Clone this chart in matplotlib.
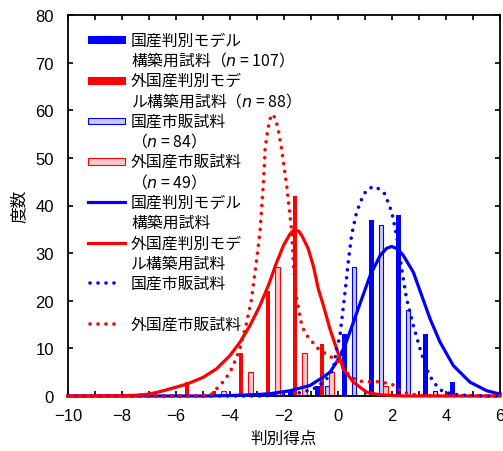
import numpy as np
import matplotlib.pyplot as plt
from matplotlib.patches import Rectangle
from matplotlib.lines import Line2D
from matplotlib.ticker import MultipleLocator

plt.rcParams['font.family'] = ['Liberation Sans', 'Noto Sans CJK JP']
plt.rcParams['mathtext.fontset'] = 'dejavusans'

# histogram bins (width 1), counts per group
bin_centers = [-5.5, -4.5, -3.5, -2.5, -1.5, -0.5, 0.5, 1.5, 2.5, 3.5, 4.5]
dom_model_counts = [0, 0, 0, 0, 1, 2, 13, 37, 38, 13, 3]     # n = 107
for_model_counts = [3, 1, 9, 22, 42, 11, 0, 0, 0, 0, 0]      # n = 88
dom_market_counts = [0, 0, 0, 0, 0, 2, 27, 36, 18, 1, 0]     # n = 84
for_market_counts = [0, 1, 5, 27, 9, 5, 0, 2, 0, 0, 0]       # n = 49

# fitted curves
dom_model_x = [-10, -5, -4, -3, -2.5, -1.78, -1.04, -0.54, -0.3, -0.05, 0.26, 0.57, 0.88,
               1.19, 1.56, 1.8, 1.99, 2.2, 2.42, 2.79, 3.1, 3.41, 3.78, 4.27, 4.89, 5.51, 6.0]
dom_model_y = [0, 0, 0.1, 0.3, 0.5, 1.1, 2.2, 4.0, 5.0, 7.1, 10.6, 15.5, 20.4,
               25.3, 29.5, 31.0, 31.4, 30.9, 29.5, 26.0, 21.1, 16.2, 11.3, 6.4, 2.9, 1.1, 0.4]

for_model_x = [-10, -8, -7.5, -7, -6.6, -6.22, -5.6, -5.0, -4.5, -4.0, -3.63, -3.26, -2.89,
               -2.58, -2.27, -2.02, -1.78, -1.63, -1.45, -1.34, -1.1, -0.9, -0.73, -0.54,
               -0.3, -0.05, 0.2, 0.57, 1.06, 1.5, 2.0, 2.5, 6]
for_model_y = [0, 0.05, 0.15, 0.4, 0.9, 1.5, 2.5, 3.9, 5.7, 8.5, 11.3, 14.8, 19.0,
               23.2, 28.1, 31.6, 34.0, 34.9, 34.6, 33.7, 30.9, 27.0, 22.5, 19.0,
               14.1, 9.9, 5.7, 2.9, 0.8, 0.3, 0.1, 0, 0]

dom_market_x = [-10, -3, -2, -1.28, -0.79, -0.42, -0.17, -0.05, 0.07, 0.14, 0.26, 0.38, 0.5,
                0.69, 0.88, 1.05, 1.31, 1.55, 1.74, 1.99, 2.17, 2.36, 2.54, 2.79, 3.04,
                3.28, 3.53, 3.9, 4.5, 5.5, 6]
dom_market_y = [0, 0, 0.2, 0.8, 1.8, 3.6, 5.7, 10.0, 12.5, 16.0, 21.8, 28.1, 33.7,
                38.6, 41.4, 43.2, 44.0, 43.4, 42.4, 38.6, 33.7, 26.7, 20.4, 14.8, 9.9,
                5.7, 2.9, 0.8, 0.2, 0, 0]

for_market_x = [-10, -5.2, -4.7, -4.5, -4.25, -4.0, -3.8, -3.63, -3.4, -3.2, -3.05, -2.89,
                -2.76, -2.7, -2.6, -2.5, -2.42, -2.3, -2.2, -2.09, -1.9, -1.71, -1.65,
                -1.53, -1.34, -1.2, -1.04, -0.79, -0.54, -0.3, -0.1, 0.1, 0.3, 0.45, 0.7,
                1.0, 1.5, 2.0, 2.2, 2.5, 3.0, 6]
for_market_y = [0, 0, 0.3, 1.5, 3, 5, 7.5, 10, 15, 20.4, 27, 34.4,
                44.9, 51.9, 56, 58.5, 59.2, 58, 55.5, 51.9, 44.2, 34.4, 27.4,
                20.4, 14.8, 13, 12, 10.2, 9.2, 8.3, 7.8, 6.5, 5, 4.3, 3.2,
                3, 3, 2.5, 1.5, 0.7, 0.1, 0]

BLUE = '#0000ff'
RED = '#ff0000'
LIGHT_BLUE = '#c8c8ff'
LIGHT_RED = '#ffc8c8'
DOTS = (0, (0.01, 2.2))

fig = plt.figure(figsize=(5.03, 4.52), dpi=100)
ax = fig.add_axes([68 / 503, 1 - 397 / 452, 432 / 503, 381 / 452])

centers = np.array(bin_centers)
bw = 0.17
ax.bar(centers - 0.25, dom_model_counts, width=bw, color=BLUE, zorder=2)
ax.bar(centers - 0.1, for_model_counts, width=bw, color=RED, zorder=2)
ax.bar(centers + 0.1, dom_market_counts, width=bw, facecolor=LIGHT_BLUE,
       edgecolor=BLUE, linewidth=0.8, zorder=2)
ax.bar(centers + 0.25, for_market_counts, width=bw, facecolor=LIGHT_RED,
       edgecolor=RED, linewidth=0.8, zorder=2)

ax.plot(dom_model_x, dom_model_y, color=BLUE, lw=2.3, zorder=3, clip_on=False)
ax.plot(for_model_x, for_model_y, color=RED, lw=2.3, zorder=3.1, clip_on=False)
ax.plot(dom_market_x, dom_market_y, color=BLUE, lw=2.6, ls=DOTS,
        dash_capstyle='round', zorder=3.2, clip_on=False)
ax.plot(for_market_x, for_market_y, color=RED, lw=2.6, ls=DOTS,
        dash_capstyle='round', zorder=3.3, clip_on=False)

ax.set_xlim(-10, 6)
ax.set_ylim(0, 80)
ax.xaxis.set_major_locator(MultipleLocator(2))
ax.xaxis.set_minor_locator(MultipleLocator(1))
ax.yaxis.set_major_locator(MultipleLocator(10))
ax.tick_params(which='both', direction='in', top=True, right=True,
               length=3.5, width=1.2, labelsize=12)
ax.tick_params(axis='x', pad=9)
ax.tick_params(axis='y', pad=10)
for s in ax.spines.values():
    s.set_linewidth(1.3)

ax.set_xlabel('判別得点', fontsize=12, labelpad=5)
ax.set_ylabel('度数', fontsize=12, labelpad=6)

# legend, one row per text line (handles sit on the first line of each entry)
bar_solid_b = ('bar', dict(facecolor=BLUE, edgecolor=BLUE, lw=0.8))
bar_solid_r = ('bar', dict(facecolor=RED, edgecolor=RED, lw=0.8))
bar_open_b = ('bar', dict(facecolor=LIGHT_BLUE, edgecolor=BLUE, lw=0.8))
bar_open_r = ('bar', dict(facecolor=LIGHT_RED, edgecolor=RED, lw=0.8))
line_b = ('line', dict(color=BLUE, lw=2.3))
line_r = ('line', dict(color=RED, lw=2.3))
dot_b = ('line', dict(color=BLUE, lw=2.6, ls=DOTS, dash_capstyle='round'))
dot_r = ('line', dict(color=RED, lw=2.6, ls=DOTS, dash_capstyle='round'))

legend_rows = [
    (bar_solid_b, '国産判別モデル'),
    (None, '構築用試料（$n$ = 107）'),
    (bar_solid_r, '外国産判別モデ'),
    (None, 'ル構築用試料（$n$ = 88）'),
    (bar_open_b, '国産市販試料'),
    (None, '（$n$ = 84）'),
    (bar_open_r, '外国産市販試料'),
    (None, '（$n$ = 49）'),
    (line_b, '国産判別モデル'),
    (None, '構築用試料'),
    (line_r, '外国産判別モデ'),
    (None, 'ル構築用試料'),
    (dot_b, '国産市販試料'),
    (None, ''),
    (dot_r, '外国産市販試料'),
]

y0 = 0.9352
step = 20.3 / 381
hx0, hx1, tx = 0.0463, 0.1319, 0.1458
for i, (handle, text) in enumerate(legend_rows):
    y = y0 - i * step
    if handle is not None:
        kind, style = handle
        if kind == 'bar':
            h = 6.5 / 381
            ax.add_patch(Rectangle((hx0, y - h / 2), hx1 - hx0, h, transform=ax.transAxes,
                                   clip_on=False, zorder=5, **style))
        elif style.get('ls') == DOTS:
            ax.add_line(Line2D([hx0 + 0.004, hx1 - 0.012], [y, y], transform=ax.transAxes,
                               clip_on=False, zorder=5, **style))
        else:
            ax.add_line(Line2D([hx0, hx1], [y, y], transform=ax.transAxes,
                               clip_on=False, zorder=5, **style))
    if text:
        ax.text(tx, y, text, transform=ax.transAxes, ha='left', va='center',
                fontsize=11.4, family=['Noto Sans CJK JP'], zorder=5)

fig.savefig('out.png', dpi=100)
